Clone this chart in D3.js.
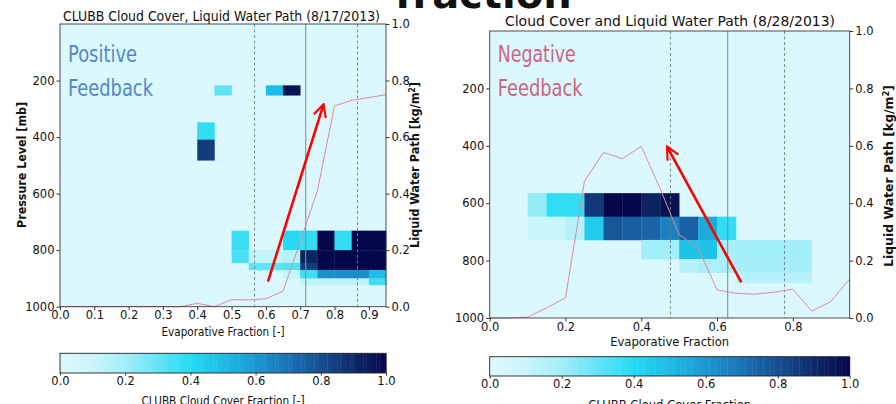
<!DOCTYPE html>
<html>
<head>
<meta charset="utf-8">
<script src="https://cdn.jsdelivr.net/npm/d3@7"></script>
<style>
  html, body { margin: 0; padding: 0; background: #ffffff; }
  svg { display: block; }
  text { font-family: "DejaVu Sans", sans-serif; fill: #111; }
</style>
</head>
<body>
<svg id="chart" width="896" height="404"></svg>
<script>
// ---- data ---------------------------------------------------------------
// evaporative-fraction bins (left edge of each 0.05-wide bin)
const efGrid = [0, 0.05, 0.1, 0.15, 0.2, 0.25, 0.3, 0.35, 0.4, 0.45,
                0.5, 0.55, 0.6, 0.65, 0.7, 0.75, 0.8, 0.85, 0.9, 0.95];
const efBinWidth = 0.05;

// liquid water path [kg/m2] at each EF grid point
const lwp0817 = [0, 0, 0, 0, 0, 0, 0, 0, 0.012, 0,
                 0.025, 0.024, 0.028, 0.055, 0.23, 0.41, 0.71, 0.73, 0.74, 0.75];
const lwp0828 = [0, 0, 0.003, 0.035, 0.07, 0.476, 0.577, 0.555, 0.598, 0.45,
                 0.29, 0.245, 0.098, 0.086, 0.083, 0.09, 0.1, 0.024, 0.057, 0.136];

// cloud-cover cells: [EF bin start, top pressure (mb), bottom pressure (mb), cover fraction]
const cells0817 = [
  [0.45, 217, 252, 0.30], [0.60, 217, 252, 0.50], [0.65, 217, 252, 0.97],
  [0.40, 348, 409, 0.38], [0.40, 409, 482, 0.85],
  [0.50, 731, 800, 0.36], [0.65, 731, 800, 0.40], [0.70, 731, 800, 0.38],
  [0.75, 731, 800, 1.00], [0.80, 731, 800, 0.38], [0.85, 731, 800, 1.00], [0.90, 731, 800, 1.00],
  [0.50, 800, 845, 0.34], [0.55, 800, 845, 0.12], [0.60, 800, 845, 0.12], [0.65, 800, 845, 0.15],
  [0.70, 800, 845, 0.92], [0.75, 800, 845, 1.00], [0.80, 800, 845, 1.00], [0.85, 800, 845, 1.00], [0.90, 800, 845, 1.00],
  [0.55, 845, 870, 0.30], [0.60, 845, 870, 0.30], [0.65, 845, 870, 0.33], [0.70, 845, 870, 0.85],
  [0.75, 845, 870, 1.00], [0.80, 845, 870, 1.00], [0.85, 845, 870, 1.00], [0.90, 845, 870, 1.00],
  [0.65, 870, 900, 0.12], [0.70, 870, 900, 0.36], [0.75, 870, 900, 0.62], [0.80, 870, 900, 0.63],
  [0.85, 870, 900, 0.63], [0.90, 870, 900, 0.50],
  [0.70, 900, 923, 0.12], [0.75, 900, 923, 0.13], [0.80, 900, 923, 0.13], [0.85, 900, 923, 0.13],
  [0.90, 900, 923, 0.36]
];
const cells0828 = [
  [0.10, 565, 647, 0.22], [0.15, 565, 647, 0.38], [0.20, 565, 647, 0.38], [0.25, 565, 647, 0.86],
  [0.30, 565, 647, 1.00], [0.35, 565, 647, 1.00], [0.40, 565, 647, 0.92], [0.45, 565, 647, 0.97],
  [0.10, 647, 728, 0.10], [0.15, 647, 728, 0.10], [0.20, 647, 728, 0.15], [0.25, 647, 728, 0.45],
  [0.30, 647, 728, 0.78], [0.35, 647, 728, 0.76], [0.40, 647, 728, 0.74], [0.45, 647, 728, 0.66],
  [0.50, 647, 728, 0.75], [0.55, 647, 728, 0.55], [0.60, 647, 728, 0.38],
  [0.40, 728, 795, 0.20], [0.45, 728, 795, 0.20], [0.50, 728, 795, 0.48], [0.55, 728, 795, 0.48],
  [0.60, 728, 795, 0.18], [0.65, 728, 795, 0.20], [0.70, 728, 795, 0.20], [0.75, 728, 795, 0.20], [0.80, 728, 795, 0.20],
  [0.50, 795, 842, 0.15], [0.55, 795, 842, 0.18], [0.60, 795, 842, 0.18], [0.65, 795, 842, 0.19],
  [0.70, 795, 842, 0.19], [0.75, 795, 842, 0.19], [0.80, 795, 842, 0.19],
  [0.65, 842, 878, 0.14], [0.70, 842, 878, 0.14], [0.75, 842, 878, 0.14], [0.80, 842, 878, 0.14]
];

// mean EF (solid) and mean +/- one standard deviation (dashed)
const efMarks0817 = [0.567, 0.716, 0.867];
const efMarks0828 = [0.477, 0.628, 0.778];

// arrow annotations: [tail, head] as [EF, LWP]
const arrow0817 = [[0.606, 0.089], [0.768, 0.716]];
const arrow0828 = [[0.664, 0.124], [0.468, 0.597]];

// tick values
const pressureTicks = [200, 400, 600, 800, 1000];
const lwpTicks = [0, 0.2, 0.4, 0.6, 0.8, 1.0];
const coverTicks = [0, 0.2, 0.4, 0.6, 0.8, 1.0];
const efTicks0817 = [0, 0.1, 0.2, 0.3, 0.4, 0.5, 0.6, 0.7, 0.8, 0.9];
const efTicks0828 = [0, 0.2, 0.4, 0.6, 0.8];

// ---- colour map (light cyan -> cyan -> navy) -----------------------------
const cmapStops = [0, 0.1, 0.2, 0.3, 0.4, 0.5, 0.6, 0.7, 0.8, 0.9, 1.0];
const cmapColors = ["#def9fd", "#c9f5fb", "#a2eef9", "#62e3f5", "#24dbf3", "#1ebce6",
                    "#1b98d2", "#1a73b5", "#164f92", "#0e2b68", "#04074a"];
const cmap = d3.scaleLinear().domain(cmapStops).range(cmapColors)
  .interpolate(d3.interpolateRgb).clamp(true);

const svg = d3.select("#chart");

// arrowhead marker
svg.append("defs").append("marker")
  .attr("id", "arrowHead")
  .attr("viewBox", "0 0 10 10")
  .attr("refX", 9).attr("refY", 5)
  .attr("markerWidth", 6).attr("markerHeight", 6)
  .attr("markerUnits", "strokeWidth")
  .attr("orient", "auto")
  .append("path")
  .attr("d", "M1,1 L9,5 L1,9")
  .attr("fill", "none")
  .attr("stroke", "#ff0000")
  .attr("stroke-width", 1.4);

function drawPanel(cfg) {
  const g = svg.append("g");
  const x = d3.scaleLinear().domain([0, 0.95]).range([cfg.x0, cfg.x1]);
  const yP = d3.scaleLinear().domain([0, 1000]).range([cfg.y0, cfg.y1]);
  const yL = d3.scaleLinear().domain([0, 1]).range([cfg.y1, cfg.y0]);

  // title
  g.append("text")
    .attr("x", cfg.titleX).attr("y", cfg.titleY)
    .attr("font-size", 13.5)
    .attr("textLength", cfg.titleLen).attr("lengthAdjust", "spacingAndGlyphs")
    .text(cfg.title);

  // background (zero cover)
  g.append("rect")
    .attr("x", cfg.x0).attr("y", cfg.y0)
    .attr("width", cfg.x1 - cfg.x0).attr("height", cfg.y1 - cfg.y0)
    .attr("fill", cmap(0.02));

  // cloud-cover cells
  g.append("g").selectAll("rect").data(cfg.cells).join("rect")
    .attr("x", d => x(d[0]))
    .attr("width", d => x(d[0] + efBinWidth) - x(d[0]) + 0.3)
    .attr("y", d => yP(d[1]))
    .attr("height", d => yP(d[2]) - yP(d[1]) + 0.3)
    .attr("fill", d => cmap(d[3]));

  // feedback label
  g.append("text").attr("x", cfg.x0 + 8).attr("y", 61.5)
    .attr("font-family", "Lato, 'Open Sans', sans-serif").attr("font-size", 23)
    .attr("textLength", cfg.fbLen1).attr("lengthAdjust", "spacingAndGlyphs")
    .style("fill", cfg.fbColor).text(cfg.fbWord);
  g.append("text").attr("x", cfg.x0 + 8).attr("y", 96)
    .attr("font-family", "Lato, 'Open Sans', sans-serif").attr("font-size", 23)
    .attr("textLength", 85).attr("lengthAdjust", "spacingAndGlyphs")
    .style("fill", cfg.fbColor).text("Feedback");

  // EF mean and spread lines
  g.append("g").selectAll("line").data(cfg.marks).join("line")
    .attr("x1", d => x(d)).attr("x2", d => x(d))
    .attr("y1", cfg.y0).attr("y2", cfg.y1)
    .attr("stroke", (d, i) => i === 1 ? "#7f9399" : "#6f8288")
    .attr("stroke-width", (d, i) => i === 1 ? 1.1 : 0.9)
    .attr("stroke-dasharray", (d, i) => i === 1 ? null : "3,2.5");

  // liquid water path
  const line = d3.line().x((d, i) => x(efGrid[i])).y(d => yL(d));
  g.append("path").datum(cfg.lwp)
    .attr("d", line)
    .attr("fill", "none")
    .attr("stroke", "#e4869f")
    .attr("stroke-width", 1);

  // arrow
  g.append("line")
    .attr("x1", x(cfg.arrow[0][0])).attr("y1", yL(cfg.arrow[0][1]))
    .attr("x2", x(cfg.arrow[1][0])).attr("y2", yL(cfg.arrow[1][1]))
    .attr("stroke", "#ff0000").attr("stroke-width", 2.6)
    .attr("marker-end", "url(#arrowHead)");

  // frame
  g.append("rect")
    .attr("x", cfg.x0).attr("y", cfg.y0)
    .attr("width", cfg.x1 - cfg.x0).attr("height", cfg.y1 - cfg.y0)
    .attr("fill", "none").attr("stroke", "#3a3a3a").attr("stroke-width", 0.9);

  // axes
  const styleAxis = sel => {
    sel.select(".domain").remove();
    sel.selectAll(".tick line").attr("stroke", "#333");
    sel.selectAll(".tick text").attr("font-size", 11.5)
      .attr("font-family", "DejaVu Sans, sans-serif").style("fill", "#111");
  };
  g.append("g").attr("transform", `translate(${cfg.x0},0)`)
    .call(d3.axisLeft(yP).tickValues(pressureTicks).tickFormat(d3.format("d")).tickSize(3.5).tickPadding(2))
    .call(styleAxis);
  g.append("g").attr("transform", `translate(${cfg.x1},0)`)
    .call(d3.axisRight(yL).tickValues(lwpTicks).tickFormat(d3.format(".1f")).tickSize(3.5).tickPadding(2))
    .call(styleAxis);
  g.append("g").attr("transform", `translate(0,${cfg.y1})`)
    .call(d3.axisBottom(x).tickValues(cfg.efTicks).tickFormat(d3.format(".1f")).tickSize(3.5).tickPadding(1))
    .call(styleAxis);

  // axis titles
  g.append("text")
    .attr("x", (cfg.x0 + cfg.x1) / 2).attr("y", cfg.xLabelY)
    .attr("text-anchor", "middle").attr("font-size", 12.5)
    .attr("textLength", cfg.xLabelLen).attr("lengthAdjust", "spacingAndGlyphs")
    .text(cfg.xLabel);

  const rl = g.append("text")
    .attr("transform", `translate(${cfg.rLabelX},${cfg.rLabelY}) rotate(-90)`)
    .attr("text-anchor", "middle").attr("font-size", 12).attr("font-weight", "bold")
    .attr("textLength", cfg.rLabelLen).attr("lengthAdjust", "spacingAndGlyphs");
  rl.append("tspan").text("Liquid Water Path [kg/m");
  rl.append("tspan").attr("dy", -4).attr("font-size", 8).text("2");
  rl.append("tspan").attr("dy", 4).text("]");

  // colour bar
  const cb = d3.scaleLinear().domain([0, 1]).range([cfg.x0, cfg.x1]);
  const slices = d3.range(0, 1, 0.01);
  g.append("g").selectAll("rect").data(slices).join("rect")
    .attr("x", d => cb(d)).attr("width", d => cb(d + 0.01) - cb(d) + 0.4)
    .attr("y", cfg.cbY0).attr("height", cfg.cbY1 - cfg.cbY0)
    .attr("fill", d => cmap(d + 0.005));
  g.append("rect")
    .attr("x", cfg.x0).attr("y", cfg.cbY0)
    .attr("width", cfg.x1 - cfg.x0).attr("height", cfg.cbY1 - cfg.cbY0)
    .attr("fill", "none").attr("stroke", "#222").attr("stroke-width", 0.9);
  g.append("g").attr("transform", `translate(0,${cfg.cbY1})`)
    .call(d3.axisBottom(cb).tickValues(coverTicks).tickFormat(d3.format(".1f")).tickSize(2.5).tickPadding(1))
    .call(styleAxis);
  g.append("text")
    .attr("x", (cfg.x0 + cfg.x1) / 2).attr("y", cfg.cbLabelY)
    .attr("text-anchor", "middle").attr("font-size", 12.5)
    .attr("textLength", cfg.cbLabelLen).attr("lengthAdjust", "spacingAndGlyphs")
    .text(cfg.cbLabel);
}

drawPanel({
  x0: 60, x1: 386, y0: 24, y1: 306.7,
  title: "CLUBB Cloud Cover, Liquid Water Path (8/17/2013)",
  titleX: 63, titleY: 21, titleLen: 317,
  cells: cells0817, lwp: lwp0817, marks: efMarks0817, arrow: arrow0817,
  efTicks: efTicks0817,
  fbWord: "Positive", fbLen1: 69, fbColor: "#5189c8",
  xLabel: "Evaporative Fraction [-]", xLabelY: 336, xLabelLen: 123,
  rLabelX: 419, rLabelY: 165, rLabelLen: 166,
  cbY0: 353.3, cbY1: 373, cbLabel: "CLUBB Cloud Cover Fraction [-]", cbLabelY: 405, cbLabelLen: 163
});

drawPanel({
  x0: 489.7, x1: 849.7, y0: 31, y1: 318,
  title: "Cloud Cover and Liquid Water Path (8/28/2013)",
  titleX: 505, titleY: 26, titleLen: 330,
  cells: cells0828, lwp: lwp0828, marks: efMarks0828, arrow: arrow0828,
  efTicks: efTicks0828,
  fbWord: "Negative", fbLen1: 78, fbColor: "#cc6680",
  xLabel: "Evaporative Fraction", xLabelY: 346, xLabelLen: 119,
  rLabelX: 893, rLabelY: 176, rLabelLen: 182,
  cbY0: 356.7, cbY1: 376, cbLabel: "CLUBB Cloud Cover Fraction", cbLabelY: 409, cbLabelLen: 163
});

// left panel pressure label
svg.append("text")
  .attr("transform", "translate(26,165) rotate(-90)")
  .attr("text-anchor", "middle").attr("font-size", 12).attr("font-weight", "bold")
  .attr("textLength", 126).attr("lengthAdjust", "spacingAndGlyphs")
  .text("Pressure Level [mb]");

// slide heading, mostly above the visible area
svg.append("text")
  .attr("x", 395).attr("y", 8)
  .attr("font-family", "'Liberation Sans', Arial, sans-serif")
  .attr("font-weight", "bold").attr("font-size", 40)
  .style("fill", "#111")
  .text("fraction");
</script>
</body>
</html>
